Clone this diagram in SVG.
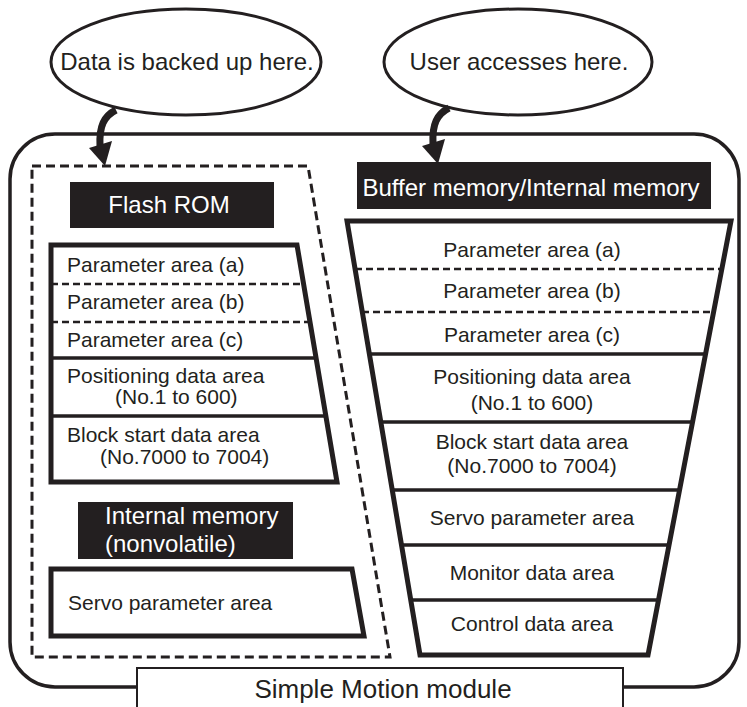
<svg xmlns="http://www.w3.org/2000/svg" width="747" height="707" viewBox="0 0 747 707">
<style>
text{font-family:"Liberation Sans",Arial,sans-serif;fill:#231f20}
.row{font-size:21px}
.lbl{font-size:24px;fill:#fff}
.mid{text-anchor:middle}
.trap{fill:#fff;stroke:#231f20;stroke-width:5;stroke-linejoin:miter}
.dl{stroke:#231f20;stroke-width:2.5;stroke-dasharray:7 4;fill:none}
.sl{stroke:#231f20;stroke-width:3.5;fill:none}
.bub{fill:#fff;stroke:#231f20;stroke-width:3}
.blk{fill:#231f20}
</style>
<rect width="747" height="707" fill="#fff"/>
<g id="module">
<rect x="10" y="134" width="729" height="553" rx="45" ry="45" fill="#fff" stroke="#231f20" stroke-width="3.5"/>
</g>
<g id="bubble-backup">
<ellipse class="bub" cx="186" cy="62" rx="135" ry="53"/>
<text class="mid" x="187" y="70" style="font-size:24px">Data is backed up here.</text>
</g>
<g id="bubble-user">
<ellipse class="bub" cx="518" cy="62" rx="134" ry="53"/>
<text class="mid" x="519" y="70" style="font-size:24px">User accesses here.</text>
</g>
<g id="nonvolatile-region">
<path d="M32,166 L308,166 L390,657 L32,657 Z" fill="none" stroke="#231f20" stroke-width="3" stroke-dasharray="9 5"/>
</g>
<g id="flash-rom-label">
<rect class="blk" x="70" y="182" width="204" height="46"/>
<text class="lbl mid" x="169" y="213">Flash ROM</text>
</g>
<g id="flash-rom">
<polygon class="trap" points="51,245 297,245 337,482 51,482"/>
<line class="dl" x1="51" y1="284" x2="303" y2="284"/>
<line class="dl" x1="51" y1="322" x2="310" y2="322"/>
<line class="sl" x1="51" y1="358" x2="316" y2="358"/>
<line class="sl" x1="51" y1="416" x2="326" y2="416"/>
<text class="row" x="67" y="272">Parameter area (a)</text>
<text class="row" x="67" y="309">Parameter area (b)</text>
<text class="row" x="67" y="347">Parameter area (c)</text>
<text class="row" x="67" y="383">Positioning data area</text>
<text class="row" x="115" y="404">(No.1 to 600)</text>
<text class="row" x="67" y="442">Block start data area</text>
<text class="row" x="100" y="464">(No.7000 to 7004)</text>
</g>
<g id="internal-memory-label">
<rect class="blk" x="78" y="502" width="215" height="57"/>
<text class="lbl" x="105" y="524">Internal memory</text>
<text class="lbl" x="105" y="552">(nonvolatile)</text>
</g>
<g id="internal-memory">
<polygon class="trap" points="51,569 352,569 364,636 51,636"/>
<text class="row" x="68" y="610">Servo parameter area</text>
</g>
<g id="buffer-label">
<rect class="blk" x="357" y="162" width="354" height="47"/>
<text class="lbl mid" x="531" y="196">Buffer memory/Internal memory</text>
</g>
<g id="buffer-memory">
<polygon class="trap" points="347,221 731,221 648,655 420,655"/>
<line class="dl" x1="355" y1="269" x2="722" y2="269"/>
<line class="dl" x1="362" y1="312" x2="714" y2="312"/>
<line class="sl" x1="369" y1="354" x2="706" y2="354"/>
<line class="sl" x1="381" y1="422" x2="693" y2="422"/>
<line class="sl" x1="392" y1="490" x2="680" y2="490"/>
<line class="sl" x1="401" y1="545" x2="669" y2="545"/>
<line class="sl" x1="411" y1="600" x2="659" y2="600"/>
<text class="row mid" x="532" y="257">Parameter area (a)</text>
<text class="row mid" x="532" y="298">Parameter area (b)</text>
<text class="row mid" x="532" y="342">Parameter area (c)</text>
<text class="row mid" x="532" y="384">Positioning data area</text>
<text class="row mid" x="532" y="410">(No.1 to 600)</text>
<text class="row mid" x="532" y="449">Block start data area</text>
<text class="row mid" x="532" y="473">(No.7000 to 7004)</text>
<text class="row mid" x="532" y="525">Servo parameter area</text>
<text class="row mid" x="532" y="580">Monitor data area</text>
<text class="row mid" x="532" y="631">Control data area</text>
</g>
<g id="connectors">
<path d="M116,110 C104,116 99,126 100,146" fill="none" stroke="#231f20" stroke-width="7"/>
<polygon points="89,148 112,141 105,166" fill="#231f20"/>
<path d="M449,108 C437,114 432,124 433,144" fill="none" stroke="#231f20" stroke-width="7"/>
<polygon points="422,146 445,139 438,164" fill="#231f20"/>
</g>
<g id="module-label">
<rect x="137" y="668" width="486" height="45" fill="#fff" stroke="#231f20" stroke-width="2"/>
<text class="mid" x="383" y="698" style="font-size:26px">Simple Motion module</text>
</g>
</svg>
